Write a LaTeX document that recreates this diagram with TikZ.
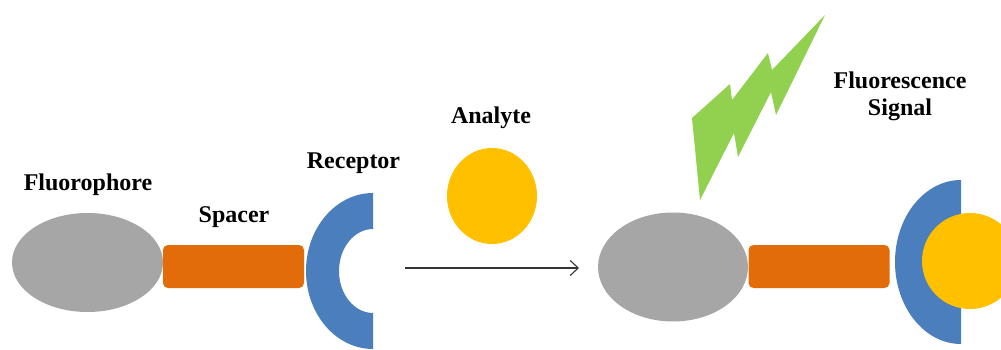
\documentclass[tikz,border=0pt]{standalone}
\usepackage{fontspec}
\setmainfont{Liberation Serif}
\usetikzlibrary{arrows.meta,shapes.geometric}
\definecolor{fgrey}{HTML}{A6A6A6}
\definecolor{sorange}{HTML}{E36C0A}
\definecolor{rblue}{HTML}{4B7EBC}
\definecolor{ayellow}{HTML}{FFC000}
\definecolor{bgreen}{HTML}{92D050}
\begin{document}
\begin{tikzpicture}[x=1pt,y=1pt,
  lbl/.style={font=\fontsize{24}{27}\selectfont\bfseries, inner sep=0pt, anchor=base, align=center},
  fluo/.style={ellipse, fill=fgrey, inner sep=0pt},
  spacerbox/.style={rectangle, fill=sorange, rounded corners=5pt, minimum width=141pt, minimum height=43pt, inner sep=0pt},
  analyte/.style={ellipse, fill=ayellow, inner sep=0pt},
  receptorfill/.style={fill=rblue},
  bolt/.style={fill=bgreen}
]
\useasboundingbox (0,0) rectangle (1001,349);
\fill[white] (0,0) rectangle (1001,349);
\clip (0,0) rectangle (1001,349);

% ---- left construct ----
\node[fluo, minimum width=151pt, minimum height=99pt] (fl1) at (87.5,86.5) {};
\node[spacerbox] (sp1) at (233.5,82.5) {};
\path[receptorfill] (373,156) arc[start angle=90,end angle=270,x radius=67,y radius=78]
  -- (373,36) arc[start angle=270,end angle=90,x radius=34,y radius=42] -- cycle;
\coordinate (rc1) at (373,78);

\node[lbl] (lfluo) at (88,159) {Fluorophore};
\node[lbl] (lspacer) at (234,127) {Spacer};
\node[lbl] (lrec) at (353.5,181) {Receptor};

% ---- analyte ----
\node[analyte, minimum width=90pt, minimum height=96pt] (an) at (492,153) {};
\node[lbl] (lan) at (491,226) {Analyte};

% ---- reaction arrow ----
\coordinate (ar0) at (405,81);
\coordinate (ar1) at (579,81);
\draw[line width=1.1pt, draw=black!80, -{Straight Barb[length=8pt,width=15pt,line width=1.1pt]}] (ar0) -- (ar1);

% ---- right construct ----
\node[fluo, minimum width=150pt, minimum height=109pt] (fl2) at (673,82) {};
\node[spacerbox] (sp2) at (819,82.5) {};
\path[receptorfill] (961,169) arc[start angle=90,end angle=270,x radius=66,y radius=82] -- cycle;
\node[circle, fill=ayellow, minimum size=96pt, inner sep=0pt] (an2) at (970,88) {};

% ---- fluorescence bolt ----
\path[bolt] (700,149) -- (692,231) -- (730,265) -- (732,249) -- (768,296) -- (772,279)
  -- (825,334) -- (776,234) -- (771,257) -- (738,192) -- (734,216) -- cycle;

\node[lbl] (lsig) at (900,234) {Fluorescence\\Signal};
\end{tikzpicture}
\end{document}
